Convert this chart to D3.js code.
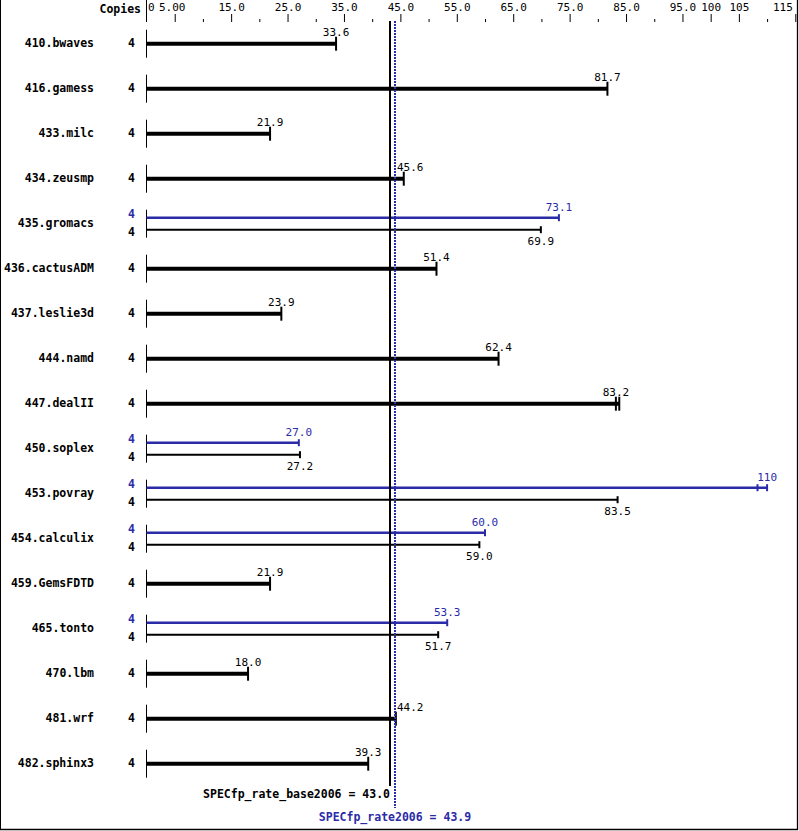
<!DOCTYPE html>
<html>
<head>
<meta charset="utf-8">
<script src="https://cdn.jsdelivr.net/npm/d3@7"></script>
<style>
  html, body { margin: 0; padding: 0; background: #fff; }
  svg { display: block; }
  text { font-family: "DejaVu Sans Mono", "Liberation Mono", monospace; }
</style>
</head>
<body>
<script>
// ---------------- data ----------------
const benchmarks = ["410.bwaves","416.gamess","433.milc","434.zeusmp","435.gromacs","436.cactusADM",
  "437.leslie3d","444.namd","447.dealII","450.soplex","453.povray","454.calculix","459.GemsFDTD",
  "465.tonto","470.lbm","481.wrf","482.sphinx3"];
const baseCopies = [4,4,4,4,4,4,4,4,4,4,4,4,4,4,4,4,4];
const peakCopies = [null,null,null,null,4,null,null,null,null,4,4,4,null,4,null,null,null];
const baseValues = [33.6,81.7,21.9,45.6,69.9,51.4,23.9,62.4,83.2,27.2,83.5,59.0,21.9,51.7,18.0,44.2,39.3];
// null = peak equals base (single bar)
const peakValues = [null,null,null,null,73.1,null,null,null,null,27.0,110,60.0,null,53.3,null,null,null];
// extra run markers
const baseExtraTicks = [null,null,null,null,null,null,null,null,83.8,null,null,null,null,null,null,null,null];
const peakExtraTicks = [null,null,null,null,null,null,null,null,null,null,108.3,null,null,null,null,null,null];
const tickLabelValues = [0,5,15,25,35,45,55,65,75,85,95,100,105,115];
const tickLabelTexts = ["0","5.00","15.0","25.0","35.0","45.0","55.0","65.0","75.0","85.0","95.0","100","105","115"];
const minorTickValues = [10,20,30,40,50,60,70,80,90,110];
const baseMean = 43.0;
const peakMean = 43.9;
const baseMeanLabel = "SPECfp_rate_base2006 = 43.0";
const peakMeanLabel = "SPECfp_rate2006 = 43.9";
const copiesHeader = "Copies";

// ---------------- drawing ----------------
const W = 799, H = 831;
const BLUE = "#2b2ba8";
const svg = d3.select("body").append("svg").attr("width", W).attr("height", H);

const x = d3.scaleLinear().domain([0, 115]).range([146.5, 795.3]);
const y = d3.scaleBand().domain(benchmarks).range([21.2, 786.2]).padding(0);
const rc = b => y(b) + y.bandwidth() / 2;

// frame
svg.append("line").attr("x1",0.5).attr("x2",0.5).attr("y1",0).attr("y2",830).attr("stroke","#000");
svg.append("line").attr("x1",797.5).attr("x2",797.5).attr("y1",0).attr("y2",830).attr("stroke","#000").attr("stroke-width",1.3);
svg.append("line").attr("x1",0).attr("x2",798).attr("y1",829.5).attr("y2",829.5).attr("stroke","#000").attr("stroke-width",1.3);

// top axis
const axisG = svg.append("g").attr("transform","translate(0,22)");
const majorAxis = d3.axisTop(x).tickValues(tickLabelValues.filter(v => v !== 0))
  .tickSize(8).tickPadding(3)
  .tickFormat(v => tickLabelTexts[tickLabelValues.indexOf(v)]);
axisG.call(majorAxis);
axisG.select(".domain").remove();
axisG.selectAll(".tick line").attr("stroke","#000").attr("stroke-width",1);
axisG.selectAll(".tick text").attr("font-size","11px").attr("fill","#000")
  .attr("font-family","DejaVu Sans Mono, monospace")
  .attr("text-anchor", v => v === 115 ? "end" : "middle")
  .attr("dx", v => v === 115 ? -3 : (v === 5 ? -3 : 0));
const minorG = svg.append("g").attr("transform","translate(0,22)");
minorG.call(d3.axisTop(x).tickValues(minorTickValues).tickSize(3).tickFormat(""));
minorG.select(".domain").remove();
minorG.selectAll(".tick line").attr("stroke","#000");
// zero label + axis line
svg.append("text").attr("x", x(0) + 1.5).attr("y", 11).attr("font-size","11px").text(tickLabelTexts[0]);
svg.append("line").attr("x1", x(0)).attr("x2", x(0)).attr("y1", 0).attr("y2", 22).attr("stroke","#000");

svg.append("text").attr("x", 141).attr("y", 13).attr("text-anchor","end")
  .attr("font-size","11.5px").attr("font-weight","bold").text(copiesHeader);

const fmt = v => v >= 100 ? d3.format(".0f")(v) : d3.format(".1f")(v);
const xb = Math.ceil(x(baseMean)), xp = Math.ceil(x(peakMean));

function valueLabel(g, v, yBase, color) {
  const t = g.append("text").attr("y", yBase).attr("font-size","11px").attr("fill", color).text(fmt(v));
  const w = t.node().getComputedTextLength();
  let left = x(v) - w / 2;
  if (left < xp + 1.5 && left + w > xb - 2) left = xp + 2;
  t.attr("x", left);
}

const rows = svg.append("g");
benchmarks.forEach((b, i) => {
  const c = rc(b);
  const g = rows.append("g");
  g.append("text").attr("x", 94).attr("y", c + 3.5).attr("text-anchor","end")
    .attr("font-size","11.5px").attr("font-weight","bold").text(b);
  g.append("line").attr("x1", x(0)).attr("x2", x(0)).attr("y1", c - 14).attr("y2", c + 14)
    .attr("stroke","#000").attr("stroke-width",1);
  const bv = baseValues[i], pv = peakValues[i];
  if (pv === null) {
    g.append("text").attr("x", 135).attr("y", c + 3.5).attr("text-anchor","end")
      .attr("font-size","11.5px").attr("font-weight","bold").text(baseCopies[i]);
    const xe = Math.max(x(bv), baseExtraTicks[i] ? x(baseExtraTicks[i]) : 0);
    g.append("line").attr("x1", x(0)).attr("x2", xe).attr("y1", c).attr("y2", c)
      .attr("stroke","#000").attr("stroke-width",4);
    [bv, baseExtraTicks[i]].filter(v => v !== null).forEach(v => {
      g.append("line").attr("x1", x(v)).attr("x2", x(v)).attr("y1", c - 7).attr("y2", c + 7)
        .attr("stroke","#000").attr("stroke-width",2);
    });
    valueLabel(g, bv, c - 8, "#000");
  } else {
    const yp = c - 6, yb = c + 6;
    g.append("text").attr("x", 135).attr("y", yp + 0.5).attr("text-anchor","end")
      .attr("font-size","11.5px").attr("font-weight","bold").attr("fill", BLUE).text(peakCopies[i]);
    g.append("text").attr("x", 135).attr("y", yb + 6).attr("text-anchor","end")
      .attr("font-size","11.5px").attr("font-weight","bold").text(baseCopies[i]);
    g.append("line").attr("x1", x(0)).attr("x2", x(pv)).attr("y1", yp).attr("y2", yp)
      .attr("stroke", BLUE).attr("stroke-width",2.5);
    [pv, peakExtraTicks[i]].filter(v => v !== null).forEach(v => {
      g.append("line").attr("x1", x(v)).attr("x2", x(v)).attr("y1", yp - 3.5).attr("y2", yp + 3.5)
        .attr("stroke", BLUE).attr("stroke-width",2);
    });
    g.append("line").attr("x1", x(0)).attr("x2", x(bv)).attr("y1", yb).attr("y2", yb)
      .attr("stroke","#000").attr("stroke-width",2);
    g.append("line").attr("x1", x(bv)).attr("x2", x(bv)).attr("y1", yb - 3.5).attr("y2", yb + 3.5)
      .attr("stroke","#000").attr("stroke-width",2);
    valueLabel(g, pv, yp - 7, BLUE);
    valueLabel(g, bv, yb + 15, "#000");
  }
});

// mean lines
svg.append("line").attr("x1", xb).attr("x2", xb).attr("y1", 21).attr("y2", 786)
  .attr("stroke","#000").attr("stroke-width",2);
svg.append("line").attr("x1", xp).attr("x2", xp).attr("y1", 21).attr("y2", 808)
  .attr("stroke", BLUE).attr("stroke-width",2).attr("stroke-dasharray","2,1");
svg.append("text").attr("x", xb).attr("y", 798).attr("text-anchor","end")
  .attr("font-size","11.5px").attr("font-weight","bold").text(baseMeanLabel);
svg.append("text").attr("x", xp).attr("y", 821).attr("text-anchor","middle")
  .attr("font-size","11.5px").attr("font-weight","bold").attr("fill", BLUE).text(peakMeanLabel);
</script>
</body>
</html>
